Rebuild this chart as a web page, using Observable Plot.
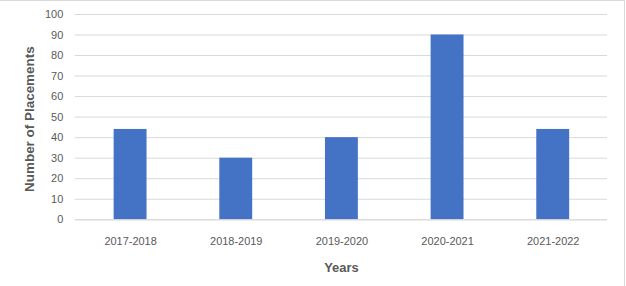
<!DOCTYPE html>
<html><head><meta charset="utf-8">
<script src="https://cdn.jsdelivr.net/npm/d3@7"></script>
<script src="https://cdn.jsdelivr.net/npm/@observablehq/plot@0.6"></script>
<style>
body{margin:0;background:#fff;}
#chart{position:relative;width:625px;height:286px;border-top:1px solid #d9d9d9;border-right:1px solid #d9d9d9;box-sizing:border-box;overflow:hidden;}
#chart svg{position:absolute;left:0;top:-1px;}
</style></head>
<body><div id="chart"></div>
<script>
const years = ["2017-2018","2018-2019","2019-2020","2020-2021","2021-2022"];
const placements = [44, 30, 40, 90, 44];
const yTicks = [0,10,20,30,40,50,60,70,80,90,100];
const data = years.map((y,i)=>({year:y, value:placements[i]}));
const yTitle = "Number of Placements";
const xTitle = "Years";

const chart = Plot.plot({
  width: 626, height: 286,
  marginLeft: 75, marginRight: 17, marginTop: 14, marginBottom: 66,
  style: {fontFamily: "'Liberation Sans', Arial, sans-serif", fontSize: "11px", color: "#595959", background: "transparent"},
  x: {domain: years, paddingInner: 0.69, paddingOuter: 0.345, label: null},
  y: {domain: [0,100], label: null},
  marks: [
    Plot.gridY(yTicks, {stroke: "#d9d9d9", strokeOpacity: 1, strokeWidth: 1}),
    Plot.barY(data, {x: "year", y: "value", fill: "#4472C4"}),
    Plot.ruleY([0], {stroke: "#d9d9d9", strokeWidth: 1}),
    Plot.axisY(yTicks, {tickSize: 0, tickPadding: 12, fill: "#595959", label: null}),
    Plot.axisX({tickSize: 0, tickPadding: 17, fill: "#595959", label: null}),
    Plot.text([yTitle], {text: d => d, frameAnchor: "left", dx: -46, dy: 2, rotate: -90, textAnchor: "middle", lineAnchor: "middle", fontSize: 13.5, fontWeight: "bold", fill: "#595959"}),
    Plot.text([xTitle], {text: d => d, frameAnchor: "bottom", dy: 48, textAnchor: "middle", lineAnchor: "middle", fontSize: 13, fontWeight: "bold", fill: "#595959"}),
  ]
});
document.getElementById("chart").appendChild(chart);
</script></body></html>
